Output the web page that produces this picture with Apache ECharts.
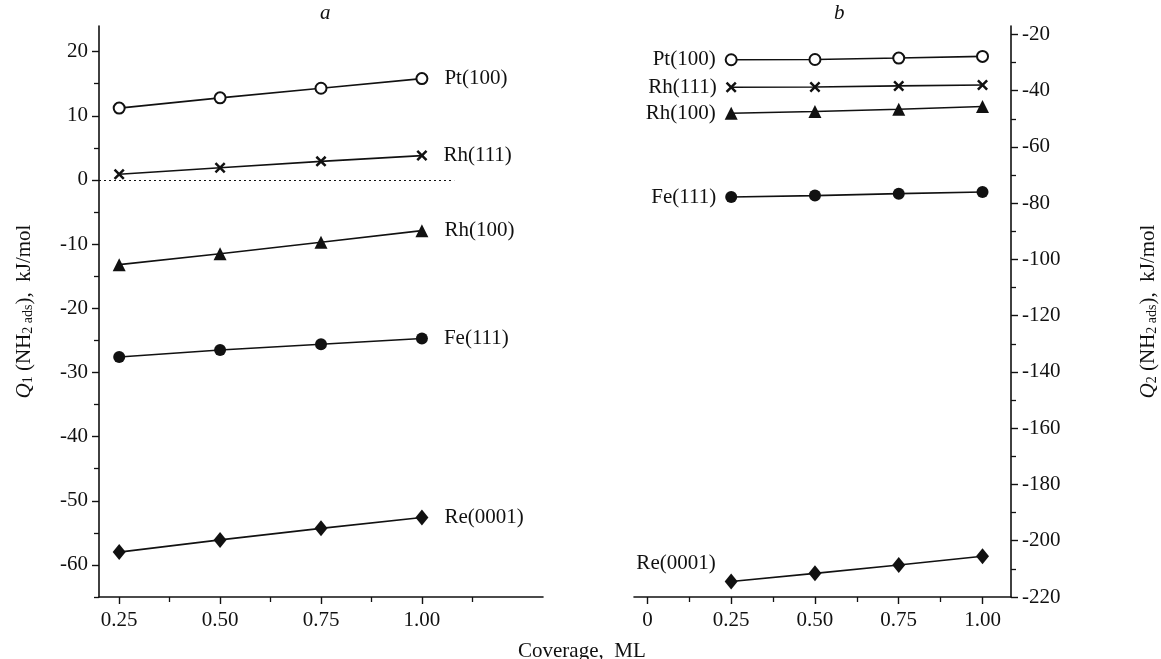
<!DOCTYPE html>
<html lang="en">
<head>
    <meta charset="UTF-8">
    <title>NH2 adsorption heats</title>
    <script src="https://cdn.jsdelivr.net/npm/echarts@6/dist/echarts.min.js"></script>
    <style>
        html, body {
            margin: 0;
            padding: 0;
            background: #fff;
        }
    </style>
</head>
<body>
<div id="main" style="width: 1161px;height: 659px"></div>
<script>
    // coverage, ML
    var coverage = [0.25, 0.5, 0.75, 1.0];

    // panel a: Q1, kJ/mol
    var q1Pt100 = [11.2, 12.8, 14.3, 15.8];
    var q1Rh111 = [0.9, 1.9, 2.9, 3.8];
    var q1Rh100 = [-13.2, -11.5, -9.7, -7.9];
    var q1Fe111 = [-27.6, -26.5, -25.6, -24.7];
    var q1Re0001 = [-58.0, -56.1, -54.3, -52.6];

    // panel b: Q2, kJ/mol
    var q2Pt100 = [-29.0, -28.9, -28.4, -27.8];
    var q2Rh111 = [-38.8, -38.7, -38.3, -38.0];
    var q2Rh100 = [-48.0, -47.4, -46.6, -45.6];
    var q2Fe111 = [-77.8, -77.3, -76.6, -76.0];
    var q2Re0001 = [-214.5, -211.6, -208.6, -205.5];

    // tick labels
    var leftYTicks = [-60, -50, -40, -30, -20, -10, 0, 10, 20];
    var leftYMinor = [-65, -55, -45, -35, -25, -15, -5, 5, 15];
    var rightYTicks = [-220, -200, -180, -160, -140, -120, -100, -80, -60, -40, -20];
    var rightYMinor = [-210, -190, -170, -150, -130, -110, -90, -70, -50, -30];
    var leftXTicks = [0.25, 0.5, 0.75, 1.0];
    var leftXMinor = [0.375, 0.625, 0.875, 1.125];
    var rightXTicks = [0, 0.25, 0.5, 0.75, 1.0];
    var rightXMinor = [0.125, 0.375, 0.625, 0.875];
    var zeroLineX = [0.2, 1.08];

    var FONT = 'Liberation Serif';
    var crossPath = 'path://M0,1.6L1.6,0L5,3.4L8.4,0L10,1.6L6.6,5L10,8.4L8.4,10L5,6.6L1.6,10L0,8.4L3.4,5Z';

    function fmtX(v) {
        return v === 0 ? '0' : v.toFixed(2);
    }

    function makeSeries(name, values, axisIdx, symbol, size, labelAt, labelPos, labelOffset) {
        var data = coverage.map(function (c, i) {
            if (i !== labelAt) return [c, values[i]];
            return {
                value: [c, values[i]],
                label: {
                    show: true,
                    position: labelPos,
                    distance: labelPos === 'right' ? 16 : 9,
                    offset: labelOffset || [0, 0],
                    formatter: name,
                    fontFamily: FONT,
                    fontSize: 21,
                    color: '#111'
                }
            };
        });
        return {
            name: name,
            type: 'line',
            xAxisIndex: axisIdx,
            yAxisIndex: axisIdx,
            data: data,
            symbol: symbol,
            symbolSize: size,
            showAllSymbol: true,
            lineStyle: {color: '#111', width: 1.6},
            itemStyle: {color: '#111', borderColor: '#111', borderWidth: symbol === 'emptyCircle' ? 1.3 : 0},
            z: 3
        };
    }

    function mainAxis(kind, grid, min, max, ticks, extra) {
        var ax = {
            type: 'value',
            gridIndex: grid,
            min: min,
            max: max,
            splitLine: {show: false},
            axisLine: {show: true, onZero: false, lineStyle: {color: '#111', width: 1.6}},
            axisTick: {show: true, inside: false, length: 7, customValues: ticks, lineStyle: {color: '#111', width: 1.4}},
            axisLabel: {
                customValues: ticks,
                fontFamily: FONT,
                fontSize: 21,
                color: '#111',
                margin: kind === 'x' ? 13 : 11,
                formatter: kind === 'x' ? fmtX : function (v) { return String(v); }
            }
        };
        for (var k in extra) ax[k] = extra[k];
        return ax;
    }

    function minorAxis(grid, min, max, ticks, pos) {
        return {
            type: 'value',
            gridIndex: grid,
            min: min,
            max: max,
            position: pos,
            splitLine: {show: false},
            axisLine: {show: false, onZero: false},
            axisLabel: {show: false},
            axisTick: {show: true, length: 5, customValues: ticks, lineStyle: {color: '#111', width: 1.3}}
        };
    }

    var chart = echarts.init(document.getElementById('main'));

    var leftName = '{q|Q}{s|1} (NH{s|2 ads}),  kJ/mol';
    var rightName = '{q|Q}{s|2} (NH{s|2 ads}),  kJ/mol';
    var nameRich = {
        q: {fontFamily: FONT, fontSize: 21, fontStyle: 'italic', color: '#111'},
        s: {fontFamily: FONT, fontSize: 14, color: '#111', verticalAlign: 'bottom', padding: [8, 0, 0, 0]}
    };

    var series = [
        makeSeries('Pt(100)', q1Pt100, 0, 'emptyCircle', 11, 3, 'right'),
        makeSeries('Rh(111)', q1Rh111, 0, crossPath, 11, 3, 'right'),
        makeSeries('Rh(100)', q1Rh100, 0, 'triangle', 13, 3, 'right'),
        makeSeries('Fe(111)', q1Fe111, 0, 'circle', 12, 3, 'right'),
        makeSeries('Re(0001)', q1Re0001, 0, 'diamond', [13, 16], 3, 'right'),
        makeSeries('Pt(100)', q2Pt100, 1, 'emptyCircle', 11, 0, 'left'),
        makeSeries('Rh(111)', q2Rh111, 1, crossPath, 11, 0, 'left'),
        makeSeries('Rh(100)', q2Rh100, 1, 'triangle', 13, 0, 'left'),
        makeSeries('Fe(111)', q2Fe111, 1, 'circle', 12, 0, 'left'),
        makeSeries('Re(0001)', q2Re0001, 1, 'diamond', [13, 16], 0, 'left', [0, -18])
    ];

    // dotted zero line in panel a
    series[0].markLine = {
        silent: true,
        symbol: 'none',
        label: {show: false},
        lineStyle: {color: '#111', type: [2, 3], width: 1},
        data: [[{coord: [zeroLineX[0], 0]}, {coord: [zeroLineX[1], 0]}]]
    };

    chart.setOption({
        animation: false,
        backgroundColor: '#fff',
        title: [
            {text: 'a', left: 315, top: -2, textStyle: {fontFamily: FONT, fontSize: 21, fontStyle: 'italic', fontWeight: 'normal', color: '#111'}},
            {text: 'b', left: 829, top: -2, textStyle: {fontFamily: FONT, fontSize: 21, fontStyle: 'italic', fontWeight: 'normal', color: '#111'}}
        ],
        grid: [
            {left: 99, top: 26, width: 444, height: 571},
            {left: 634, top: 26, width: 377, height: 571}
        ],
        xAxis: [
            mainAxis('x', 0, 0.2, 1.3, leftXTicks, {position: 'bottom'}),
            mainAxis('x', 1, -0.04, 1.085, rightXTicks, {position: 'bottom'}),
            minorAxis(0, 0.2, 1.3, leftXMinor, 'bottom'),
            minorAxis(1, -0.04, 1.085, rightXMinor, 'bottom')
        ],
        yAxis: [
            mainAxis('y', 0, -65, 24, leftYTicks, {
                position: 'left',
                name: leftName,
                nameLocation: 'middle',
                nameRotate: 90,
                nameGap: 64,
                nameTextStyle: {fontFamily: FONT, fontSize: 21, color: '#111', rich: nameRich}
            }),
            mainAxis('y', 1, -220, -17, rightYTicks, {
                position: 'right',
                name: rightName,
                nameLocation: 'middle',
                nameRotate: 90,
                nameGap: 126,
                nameTextStyle: {fontFamily: FONT, fontSize: 21, color: '#111', rich: nameRich}
            }),
            minorAxis(0, -65, 24, leftYMinor, 'left'),
            minorAxis(1, -220, -17, rightYMinor, 'right')
        ],
        graphic: [{
            type: 'text',
            left: 518,
            top: 641,
            style: {text: 'Coverage,  ML', font: '21px "Liberation Serif"', fill: '#111'}
        }],
        series: series
    });
</script>
</body>
</html>
